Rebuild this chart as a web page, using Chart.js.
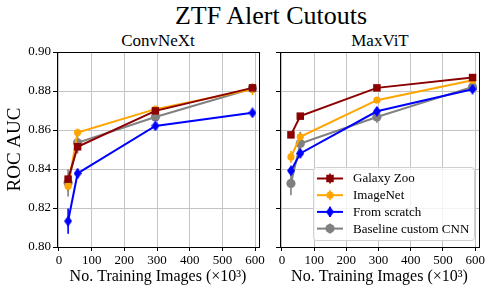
<!DOCTYPE html>
<html>
<head>
<meta charset="utf-8">
<script src="https://cdn.jsdelivr.net/npm/chart.js@4.4.0/dist/chart.umd.min.js"></script>
<style>
  body { margin: 0; background: #fff; width: 493px; height: 293px; overflow: hidden; position: relative; font-family: 'Liberation Serif', serif; }
  .t { position: absolute; white-space: nowrap; transform: translate(-50%, -50%); color: #000; }
  #wl { position: absolute; left: 0; top: 0; width: 268px; height: 293px; }
  #wr { position: absolute; left: 268px; top: 0; width: 225px; height: 293px; }
</style>
</head>
<body>
<div class="t" style="left:271px;top:16px;font-size:26px">ZTF Alert Cutouts</div>
<div class="t" style="left:158px;top:41px;font-size:17px">ConvNeXt</div>
<div class="t" style="left:380px;top:41px;font-size:17px">MaxViT</div>
<div id="wl"><canvas id="left"></canvas></div>
<div id="wr"><canvas id="right"></canvas></div>

<script>
// --- data ---
const trainSizes = [28, 57, 295, 592];            // x 10^3 images
const xTickValues = [0, 100, 200, 300, 400, 500, 600];
const yTickValues = [0.80, 0.82, 0.84, 0.86, 0.88, 0.90];
const seriesNames = ['Galaxy Zoo', 'ImageNet', 'From scratch', 'Baseline custom CNN'];

// ConvNeXt panel
const convGalaxyZoo = [0.8348, 0.8514, 0.8698, 0.8816];
const convGalaxyZooErr = [0.002, 0.002, 0.0015, 0.002];
const convImageNet = [0.8312, 0.8587, 0.8707, 0.8809];
const convImageNetErr = [0.003, 0.002, 0.0015, 0.003];
const convScratch = [0.8133, 0.8377, 0.8621, 0.8688];
const convScratchErr = [0.0065, 0.0025, 0.0015, 0.0012];
const convBaseline = [0.8329, 0.8534, 0.8667, 0.8813];
const convBaselineErr = [0.007, 0.0055, 0.002, 0.0015];

// MaxViT panel
const maxGalaxyZoo = [0.8575, 0.8671, 0.8816, 0.8869];
const maxGalaxyZooErr = [0.001, 0.001, 0.001, 0.001];
const maxImageNet = [0.8462, 0.8565, 0.8753, 0.8855];
const maxImageNetErr = [0.003, 0.002, 0.001, 0.001];
const maxScratch = [0.8391, 0.8480, 0.8696, 0.8809];
const maxScratchErr = [0.002, 0.002, 0.002, 0.0015];
const maxBaseline = [0.8326, 0.8531, 0.8667, 0.8821];
const maxBaselineErr = [0.006, 0.006, 0.003, 0.002];

Chart.defaults.font.family = "'Liberation Serif', serif";
Chart.defaults.color = '#000';

// thin diamond marker like matplotlib's 'd'
function thinDiamond(color) {
    const c = document.createElement('canvas');
    c.width = 8; c.height = 11;
    const g = c.getContext('2d');
    g.fillStyle = color;
    g.beginPath();
    g.moveTo(4, 0); g.lineTo(8, 5.5); g.lineTo(4, 11); g.lineTo(0, 5.5);
    g.closePath();
    g.fill();
    return c;
}

const styles = [
    { color: '#8b0000', pointStyle: 'rect', radius: 5.3, order: 0 },
    { color: '#ffa500', pointStyle: 'circle', radius: 3.6, order: 1 },
    { color: '#0000ff', pointStyle: thinDiamond('#0000ff'), radius: 4, order: 2 },
    { color: '#808080', pointStyle: 'circle', radius: 4.6, order: 3 }
];

function buildDatasets(values, errors) {
    return values.map((vals, i) => ({
        label: seriesNames[i],
        data: trainSizes.map((x, j) => ({ x: x, y: vals[j] })),
        errors: errors[i],
        borderColor: styles[i].color,
        backgroundColor: styles[i].color,
        borderWidth: 2,
        pointStyle: styles[i].pointStyle,
        pointRadius: styles[i].radius,
        pointBorderWidth: 0,
        order: styles[i].order
    }));
}

// vertical error bars, drawn under the lines and markers
const errorBars = {
    id: 'errorBars',
    beforeDatasetsDraw(chart) {
        const ctx = chart.ctx;
        const yScale = chart.scales.y;
        ctx.save();
        chart.data.datasets.forEach((ds, i) => {
            const meta = chart.getDatasetMeta(i);
            ctx.strokeStyle = ds.borderColor;
            ctx.lineWidth = 1.6;
            meta.data.forEach((pt, j) => {
                const v = ds.data[j].y, e = ds.errors[j];
                ctx.beginPath();
                ctx.moveTo(pt.x, yScale.getPixelForValue(v - e));
                ctx.lineTo(pt.x, yScale.getPixelForValue(v + e));
                ctx.stroke();
            });
        });
        ctx.restore();
    }
};

// top and right spines
const frame = {
    id: 'frame',
    afterDatasetsDraw(chart) {
        const a = chart.chartArea, ctx = chart.ctx;
        ctx.save();
        ctx.strokeStyle = '#000';
        ctx.lineWidth = 1;
        ctx.strokeRect(Math.round(a.left) + 0.5, Math.round(a.top) + 0.5,
            Math.round(a.right - a.left), Math.round(a.bottom - a.top));
        ctx.restore();
    }
};

// matplotlib-style legend with line, errorbar and marker
const legendBox = {
    id: 'legendBox',
    afterDraw(chart) {
        const ctx = chart.ctx, a = chart.chartArea;
        const x0 = a.right - 166, y0 = a.bottom - 80, w = 161, h = 73;
        ctx.save();
        ctx.beginPath();
        ctx.roundRect(x0 + 0.5, y0 + 0.5, w, h, 3);
        ctx.fillStyle = 'rgba(255,255,255,0.8)';
        ctx.fill();
        ctx.strokeStyle = '#d0d0d0';
        ctx.lineWidth = 1;
        ctx.stroke();
        chart.data.datasets.forEach((ds, i) => {
            const y = y0 + 11.5 + i * 16.7;
            ctx.strokeStyle = ds.borderColor;
            ctx.fillStyle = ds.borderColor;
            ctx.lineWidth = 2;
            ctx.beginPath();
            ctx.moveTo(x0 + 4, y); ctx.lineTo(x0 + 30, y);
            ctx.stroke();
            ctx.lineWidth = 1.6;
            ctx.beginPath();
            ctx.moveTo(x0 + 17, y - 5); ctx.lineTo(x0 + 17, y + 5);
            ctx.stroke();
            Chart.helpers.drawPoint(ctx, {
                pointStyle: ds.pointStyle, radius: ds.pointRadius, rotation: 0, borderWidth: 0
            }, x0 + 17, y);
            ctx.fillStyle = '#000';
            ctx.font = "13px 'Liberation Serif', serif";
            ctx.textBaseline = 'middle';
            ctx.fillText(ds.label, x0 + 40, y + 0.5);
        });
        ctx.restore();
    }
};

function makeChart(id, datasets, isLeft) {
    const plugins = [errorBars, frame];
    if (!isLeft) plugins.push(legendBox);
    return new Chart(document.getElementById(id), {
        type: 'line',
        data: { datasets: datasets },
        plugins: plugins,
        options: {
            responsive: true,
            maintainAspectRatio: false,
            animation: false,
            layout: { padding: { top: 52, right: isLeft ? 9 : 14, left: 0, bottom: 0 } },
            plugins: { legend: { display: false }, tooltip: { enabled: false } },
            scales: {
                x: {
                    type: 'linear',
                    min: -6,
                    max: 612,
                    afterBuildTicks: s => { s.ticks = xTickValues.map(v => ({ value: v })); },
                    afterFit: s => { s.height = 46; },
                    ticks: { font: { size: 13 }, padding: 2, maxRotation: 0, autoSkip: false, callback: v => String(v) },
                    grid: { color: '#c4c4c4', tickColor: '#000', tickLength: 4 },
                    border: { color: '#000', width: 1 },
                    title: {
                        display: true,
                        text: 'No. Training Images (×10³)',
                        font: { size: 16 },
                        padding: { top: 0, bottom: 7 }
                    }
                },
                y: {
                    min: 0.80,
                    max: 0.90,
                    afterBuildTicks: s => { s.ticks = yTickValues.map(v => ({ value: v })); },
                    afterFit: s => { s.width = isLeft ? 57 : 12; },
                    ticks: { display: isLeft, font: { size: 13 }, padding: 2, callback: v => v.toFixed(2) },
                    grid: { color: '#c4c4c4', tickColor: '#000', tickLength: 4 },
                    border: { color: '#000', width: 1 },
                    title: {
                        display: isLeft,
                        text: 'ROC AUC',
                        font: { size: 19 },
                        padding: { top: 4, bottom: 0 }
                    }
                }
            }
        }
    });
}

makeChart('left', buildDatasets(
    [convGalaxyZoo, convImageNet, convScratch, convBaseline],
    [convGalaxyZooErr, convImageNetErr, convScratchErr, convBaselineErr]), true);

makeChart('right', buildDatasets(
    [maxGalaxyZoo, maxImageNet, maxScratch, maxBaseline],
    [maxGalaxyZooErr, maxImageNetErr, maxScratchErr, maxBaselineErr]), false);
</script>
</body>
</html>
